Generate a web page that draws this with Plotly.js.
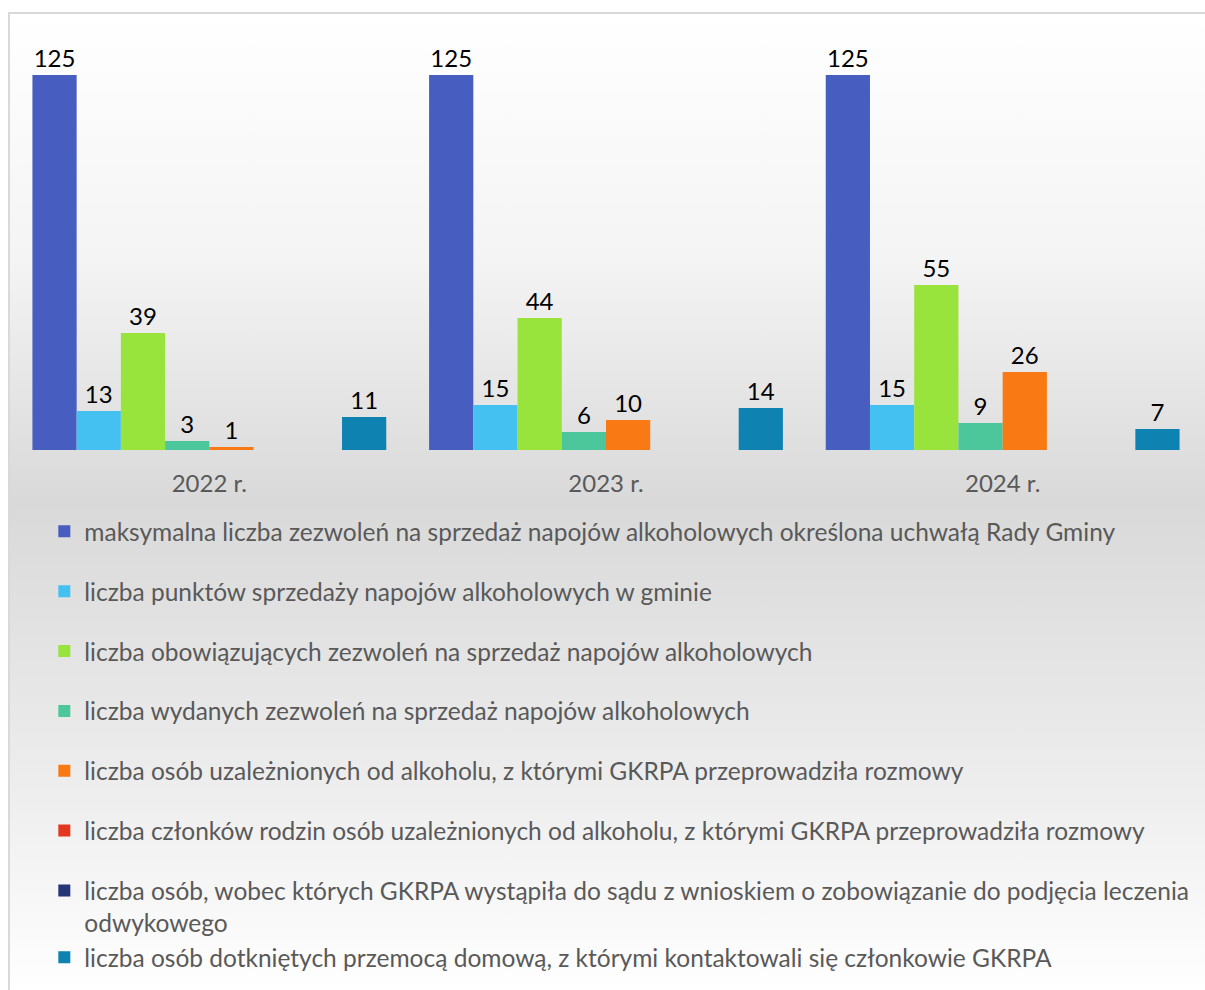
<!DOCTYPE html>
<html>
<head>
<meta charset="utf-8">
<script src="https://cdn.plot.ly/plotly-3.0.1.min.js"></script>
<style>
  html, body { margin: 0; padding: 0; background: #ffffff; }
  #bg {
    position: absolute; left: 8px; top: 12px; width: 1197px; height: 978px;
    border-left: 2px solid #d9d9d9; border-top: 2px solid #d9d9d9;
    box-sizing: border-box;
    background: linear-gradient(to bottom, #ffffff 0%, #f4f4f4 25%, #d9d9d9 50%, #eeeeee 80%, #ffffff 100%);
  }
  #chart { position: absolute; left: 0; top: 0; width: 1205px; height: 990px; }
</style>
</head>
<body>
<div id="bg"></div>
<div id="chart"></div>
<script>
const categories = ["2022 r.", "2023 r.", "2024 r."];

const seriesNames = [
  "maksymalna liczba zezwoleń na sprzedaż napojów alkoholowych określona uchwałą Rady Gminy",
  "liczba punktów sprzedaży napojów alkoholowych w gminie",
  "liczba obowiązujących zezwoleń na sprzedaż napojów alkoholowych",
  "liczba wydanych zezwoleń na sprzedaż napojów alkoholowych",
  "liczba osób uzależnionych od alkoholu, z którymi GKRPA przeprowadziła rozmowy",
  "liczba członków rodzin osób uzależnionych od alkoholu, z którymi GKRPA przeprowadziła rozmowy",
  "liczba osób, wobec których GKRPA wystąpiła do sądu z wnioskiem o zobowiązanie do podjęcia leczenia<br>odwykowego",
  "liczba osób dotkniętych przemocą domową, z którymi kontaktowali się członkowie GKRPA"
];

const maxZezwolen = [125, 125, 125];
const punktySprzedazy = [13, 15, 15];
const obowiazujaceZezwolenia = [39, 44, 55];
const wydaneZezwolenia = [3, 6, 9];
const osobyUzaleznione = [1, 10, 26];
const czlonkowieRodzin = [null, null, null];
const wnioskiDoSadu = [null, null, null];
const ofiaryPrzemocy = [11, 14, 7];

const seriesValues = [maxZezwolen, punktySprzedazy, obowiazujaceZezwolenia, wydaneZezwolenia,
  osobyUzaleznione, czlonkowieRodzin, wnioskiDoSadu, ofiaryPrzemocy];

const colors = ["#475dc0", "#45c1f1", "#98e33c", "#4cc79c", "#f97a15", "#e3361e", "#253575", "#0e82b0"];
const groups = ["g1", "g2", "g3", "g4", "g5", "g6", "g7", "g7"];

const FONT = "Lato, 'Open Sans', sans-serif";

const traces = seriesValues.map((vals, i) => ({
  type: "bar",
  name: seriesNames[i],
  x: categories,
  y: vals,
  marker: { color: colors[i] },
  text: vals.map(v => v === null ? "" : String(v)),
  textposition: "outside",
  cliponaxis: false,
  textfont: { family: FONT, size: 24, color: "#000000" },
  legendgroup: groups[i],
  hoverinfo: "name+y"
}));

const layout = {
  width: 1205,
  height: 990,
  paper_bgcolor: "rgba(0,0,0,0)",
  plot_bgcolor: "rgba(0,0,0,0)",
  margin: { l: 10.5, r: 3.5, t: 20, b: 540, pad: 0 },
  barmode: "group",
  bargap: 0.108,
  bargroupgap: 0,
  xaxis: {
    type: "category",
    range: [-0.5, 2.5],
    showgrid: false,
    zeroline: false,
    showline: false,
    ticks: "",
    ticklabelstandoff: 17,
    tickfont: { family: FONT, size: 24, color: "#595959" }
  },
  yaxis: {
    range: [0, 143.33],
    showgrid: false,
    zeroline: false,
    showline: false,
    showticklabels: false,
    ticks: ""
  },
  showlegend: true,
  legend: {
    orientation: "v",
    x: 0.028,
    xanchor: "left",
    y: -0.137,
    yanchor: "top",
    bgcolor: "rgba(0,0,0,0)",
    borderwidth: 0,
    tracegroupgap: 25,
    valign: "top",
    traceorder: "grouped",
    font: { family: FONT, size: 24.5, color: "#595959" }
  }
};

Plotly.newPlot("chart", traces, layout, { displayModeBar: false, staticPlot: true });
</script>
</body>
</html>
